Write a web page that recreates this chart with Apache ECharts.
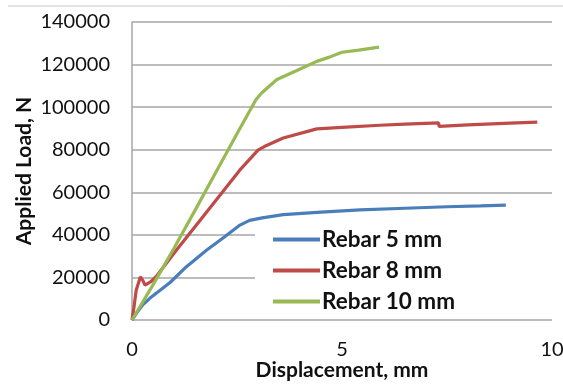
<!DOCTYPE html>
<html>
<head>
<meta charset="utf-8">
<script src="https://cdn.jsdelivr.net/npm/echarts@6/dist/echarts.min.js"></script>
<style>
  html, body { margin: 0; padding: 0; background: #fff; overflow: hidden; }
  #chart { width: 563px; height: 385px; }
</style>
</head>
<body>
<div id="chart"></div>
<script>
// Load–displacement curves for three rebar diameters (displacement in mm, load in N)
const seriesNames = ['Rebar 5 mm', 'Rebar 8 mm', 'Rebar 10 mm'];
const seriesColors = ['#4a7ebb', '#be4b48', '#98b954'];

const rebar5 = [
  [0, 0], [0.1, 3000], [0.25, 7000], [0.43, 10300], [0.9, 17500], [1.26, 24400],
  [1.78, 32900], [2.2, 39000], [2.57, 44600], [2.8, 46800], [3.1, 48000],
  [3.6, 49500], [4.5, 50700], [5.43, 51700], [6.5, 52500], [7.5, 53200],
  [8.3, 53600], [8.9, 54000]
];
const rebar8 = [
  [0, 0], [0.04, 5000], [0.1, 14000], [0.2, 20300], [0.26, 18500], [0.31, 16400],
  [0.45, 18000], [0.6, 21000], [1.06, 32900], [1.5, 43800], [2, 56300], [2.57, 70500],
  [3.0, 79800], [3.15, 81500], [3.6, 85500], [4.4, 89800], [5, 90500], [5.9, 91500],
  [6.5, 92000], [7.3, 92600], [7.31, 91000], [8, 91700], [9, 92500], [9.65, 93000]
];
const rebar10 = [
  [0, 0], [0.5, 16500], [1, 33700], [1.5, 51500], [2, 69500], [2.5, 87500],
  [2.95, 103500], [3.08, 106500], [3.45, 113000], [3.9, 117000], [4.4, 121500],
  [4.7, 123500], [5, 125800], [5.4, 126800], [5.88, 128200]
];
const seriesData = [rebar5, rebar8, rebar10];

const xTitle = 'Displacement, mm';
const yTitle = 'Applied Load, N';

const chart = echarts.init(document.getElementById('chart'), null, { renderer: 'canvas' });
const font = 'Lato, "Open Sans", sans-serif';
const gridColor = '#a6a6a6';

chart.setOption({
  animation: false,
  textStyle: { fontFamily: font },
  graphic: [{
    type: 'line',
    shape: { x1: 8, y1: 6, x2: 563, y2: 6 },
    style: { stroke: '#c8c8c8', lineWidth: 1 }
  }],
  grid: {
    left: 132, right: 11, top: 22, bottom: 65,
    containLabel: false, outerBoundsMode: 'none'
  },
  xAxis: {
    type: 'value', min: 0, max: 10, interval: 5,
    name: xTitle, nameLocation: 'middle', nameGap: 40, nameMoveOverlap: false,
    nameTextStyle: { fontFamily: font, fontWeight: 'bold', fontSize: 21, color: '#111' },
    axisLine: { show: false },
    axisTick: { show: false },
    splitLine: { show: false },
    axisLabel: { fontFamily: font, fontSize: 20, color: '#111', margin: 20 }
  },
  yAxis: {
    type: 'value', min: 0, max: 140000, interval: 20000,
    name: yTitle, nameLocation: 'middle', nameGap: 97, nameRotate: 90, nameMoveOverlap: false,
    nameTextStyle: { fontFamily: font, fontWeight: 'bold', fontSize: 21, color: '#111' },
    axisLine: { show: true, lineStyle: { color: gridColor, width: 1.5 } },
    axisTick: { show: false },
    splitLine: { show: true, lineStyle: { color: gridColor, width: 1.5 } },
    axisLabel: { fontFamily: font, fontSize: 20, color: '#111', margin: 22, formatter: v => String(v) }
  },
  legend: {
    orient: 'vertical', left: 255, top: 222,
    data: seriesNames,
    icon: 'rect', itemWidth: 47, itemHeight: 4, itemGap: 8,
    backgroundColor: '#fff',
    padding: [6, 103, 6, 18],
    textStyle: { fontFamily: font, fontWeight: 'bold', fontSize: 22.5, color: '#111', padding: [0, 0, 0, -3] }
  },
  series: seriesData.map((d, i) => ({
    name: seriesNames[i], type: 'line', data: d,
    showSymbol: false, symbol: 'none',
    lineStyle: { color: seriesColors[i], width: 3.2 },
    itemStyle: { color: seriesColors[i] }
  }))
});
</script>
</body>
</html>
